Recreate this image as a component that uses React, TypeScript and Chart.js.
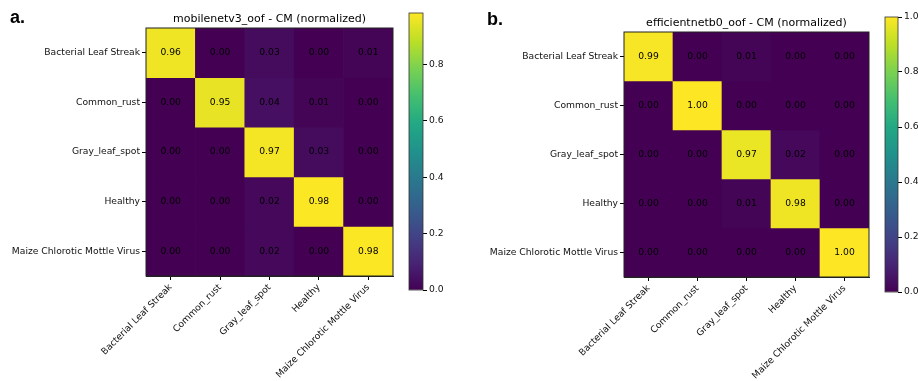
import React, { useEffect, useRef } from "react";
import { Chart, registerables } from "chart.js";
Chart.register(...registerables);

// ---------------- data ----------------
const classes = [
  "Bacterial Leaf Streak",
  "Common_rust",
  "Gray_leaf_spot",
  "Healthy",
  "Maize Chlorotic Mottle Virus",
];

const cmA = [
  [0.96, 0.0, 0.03, 0.0, 0.01],
  [0.0, 0.95, 0.04, 0.01, 0.0],
  [0.0, 0.0, 0.97, 0.03, 0.0],
  [0.0, 0.0, 0.02, 0.98, 0.0],
  [0.0, 0.0, 0.02, 0.0, 0.98],
];

const cmB = [
  [0.99, 0.0, 0.01, 0.0, 0.0],
  [0.0, 1.0, 0.0, 0.0, 0.0],
  [0.0, 0.0, 0.97, 0.02, 0.0],
  [0.0, 0.0, 0.01, 0.98, 0.0],
  [0.0, 0.0, 0.0, 0.0, 1.0],
];

const titleA = "mobilenetv3_oof - CM (normalized)";
const titleB = "efficientnetb0_oof - CM (normalized)";
const vmaxA = 0.982;
const vmaxB = 1.0;
const cbarTicksA = [0, 0.2, 0.4, 0.6, 0.8];
const cbarTicksB = [0, 0.2, 0.4, 0.6, 0.8, 1.0];

// ---------------- style ----------------
const VIRIDIS = [
  "#440154", "#482475", "#414487", "#355f8d", "#2a788e", "#21918c",
  "#22a884", "#44bf70", "#7ad151", "#bddf26", "#fde725",
];
const FAMILY = '"DejaVu Sans", sans-serif';
const tickFont = { family: FAMILY, size: 9.2 };

function hexToRgb(h: string) {
  const n = parseInt(h.slice(1), 16);
  return [(n >> 16) & 255, (n >> 8) & 255, n & 255];
}
function viridis(t: number) {
  const tt = Math.max(0, Math.min(1, t));
  const pos = tt * (VIRIDIS.length - 1);
  const i = Math.min(VIRIDIS.length - 2, Math.floor(pos));
  const f = pos - i;
  const a = hexToRgb(VIRIDIS[i]);
  const b = hexToRgb(VIRIDIS[i + 1]);
  const c = a.map((v, k) => Math.round(v + (b[k] - v) * f));
  return `rgb(${c[0]},${c[1]},${c[2]})`;
}

const H = 381;

type HeatProps = {
  cm: number[][];
  vmax: number;
  title: string;
  label: string;
  labelX: number;
  labelY: number;
  left: number;
  width: number;
  areaLeft: number;
  areaRight: number;
  areaTop: number;
  areaBottom: number;
};

function Heatmap(p: HeatProps) {
  const ref = useRef<HTMLCanvasElement | null>(null);
  useEffect(() => {
    if (!ref.current) return;
    const plugin = {
      id: "annot",
      afterDraw(chart: any) {
        const { ctx, chartArea: a } = chart;
        const x = chart.scales.x;
        const y = chart.scales.y;
        ctx.save();
        ctx.font = `9.2px ${FAMILY}`;
        ctx.fillStyle = "#000";
        ctx.textAlign = "center";
        ctx.textBaseline = "middle";
        p.cm.forEach((row, i) =>
          row.forEach((v, j) => {
            ctx.fillText(v.toFixed(2), x.getPixelForValue(j), y.getPixelForValue(i));
          })
        );
        ctx.strokeStyle = "#222";
        ctx.lineWidth = 1;
        ctx.strokeRect(a.left, a.top, a.right - a.left, a.bottom - a.top);
        ctx.font = `11px ${FAMILY}`;
        ctx.textBaseline = "alphabetic";
        ctx.fillText(p.title, (a.left + a.right) / 2, a.top - 6);
        ctx.font = `bold 18px "Liberation Sans", Arial, sans-serif`;
        ctx.textAlign = "left";
        ctx.fillText(p.label, p.labelX, p.labelY);
        ctx.restore();
      },
    };
    const chart = new Chart(ref.current, {
      type: "bar",
      data: {
        labels: classes,
        datasets: p.cm.map((row, i) => ({
          data: row.map(() => [i - 0.5, i + 0.5]),
          backgroundColor: row.map((v) => viridis(v / p.vmax)),
          borderWidth: 0,
          barPercentage: 1,
          categoryPercentage: 1,
          grouped: false,
        })) as any,
      },
      options: {
        animation: false,
        responsive: false,
        events: [],
        layout: {
          padding: { left: 0, top: p.areaTop, right: p.width - p.areaRight, bottom: 0 },
        },
        plugins: { legend: { display: false }, tooltip: { enabled: false } },
        scales: {
          x: {
            type: "category",
            offset: true,
            grid: {
              display: true,
              drawOnChartArea: false,
              drawTicks: true,
              tickLength: 4,
              color: "#000",
              offset: false,
            },
            border: { display: true, color: "#222", width: 1 },
            ticks: {
              autoSkip: false,
              minRotation: 45,
              maxRotation: 45,
              font: tickFont,
              color: "#111",
              padding: 2,
            },
            afterFit: (s: any) => {
              s.height = H - p.areaBottom;
            },
          },
          y: {
            type: "linear",
            min: -0.5,
            max: 4.5,
            reverse: true,
            afterBuildTicks: (s: any) => {
              s.ticks = classes.map((_, i) => ({ value: i }));
            },
            grid: {
              display: true,
              drawOnChartArea: false,
              drawTicks: true,
              tickLength: 4,
              color: "#000",
            },
            border: { display: true, color: "#222", width: 1 },
            ticks: {
              autoSkip: false,
              font: tickFont,
              color: "#111",
              padding: 2,
              callback: (v: any) => classes[v as number],
            },
            afterFit: (s: any) => {
              s.width = p.areaLeft;
            },
          },
        },
      } as any,
      plugins: [plugin],
    });
    return () => chart.destroy();
  }, []);
  return (
    <canvas
      ref={ref}
      width={p.width}
      height={H}
      style={{ position: "absolute", left: p.left, top: 0, width: p.width, height: H }}
    />
  );
}

type CbarProps = {
  vmax: number;
  ticks: number[];
  left: number;
  width: number;
  areaLeft: number;
  areaRight: number;
  areaTop: number;
  areaBottom: number;
};

function Colorbar(p: CbarProps) {
  const ref = useRef<HTMLCanvasElement | null>(null);
  useEffect(() => {
    if (!ref.current) return;
    const frame = {
      id: "frame",
      afterDraw(chart: any) {
        const { ctx, chartArea: a } = chart;
        ctx.save();
        ctx.strokeStyle = "#333";
        ctx.lineWidth = 0.8;
        ctx.strokeRect(a.left, a.top, a.right - a.left, a.bottom - a.top);
        ctx.restore();
      },
    };
    const chart = new Chart(ref.current, {
      type: "bar",
      data: {
        labels: ["cbar"],
        datasets: [
          {
            data: [[0, p.vmax]],
            barPercentage: 1,
            categoryPercentage: 1,
            borderWidth: 0,
            backgroundColor: (c: any) => {
              const ch = c.chart;
              const y = ch.scales && ch.scales.y;
              if (!ch.chartArea || !y) return VIRIDIS[0];
              const g = ch.ctx.createLinearGradient(
                0,
                y.getPixelForValue(0),
                0,
                y.getPixelForValue(p.vmax)
              );
              VIRIDIS.forEach((col, i) => g.addColorStop(i / (VIRIDIS.length - 1), col));
              return g;
            },
          },
        ] as any,
      },
      options: {
        animation: false,
        responsive: false,
        events: [],
        layout: {
          padding: { left: p.areaLeft, top: p.areaTop, right: 0, bottom: H - p.areaBottom },
        },
        plugins: { legend: { display: false }, tooltip: { enabled: false } },
        scales: {
          x: { display: false },
          y: {
            position: "right",
            min: 0,
            max: p.vmax,
            afterBuildTicks: (s: any) => {
              s.ticks = p.ticks.map((v) => ({ value: v }));
            },
            grid: {
              display: true,
              drawOnChartArea: false,
              drawTicks: true,
              tickLength: 4,
              color: "#000",
            },
            border: { display: false },
            ticks: {
              font: tickFont,
              color: "#111",
              padding: 2,
              callback: (v: any) => Number(v).toFixed(1),
            },
            afterFit: (s: any) => {
              s.width = p.width - p.areaRight;
            },
          },
        },
      } as any,
      plugins: [frame],
    });
    return () => chart.destroy();
  }, []);
  return (
    <canvas
      ref={ref}
      width={p.width}
      height={H}
      style={{ position: "absolute", left: p.left, top: 0, width: p.width, height: H }}
    />
  );
}

export default function App() {
  return (
    <div
      style={{
        position: "absolute",
        left: 0,
        top: 0,
        width: 918,
        height: H,
        background: "#fff",
        overflow: "hidden",
      }}
    >
      <Heatmap
        cm={cmA}
        vmax={vmaxA}
        title={titleA}
        label="a."
        labelX={10}
        labelY={23}
        left={0}
        width={400}
        areaLeft={146}
        areaRight={393}
        areaTop={28}
        areaBottom={276}
      />
      <Colorbar
        vmax={vmaxA}
        ticks={cbarTicksA}
        left={400}
        width={60}
        areaLeft={9}
        areaRight={23}
        areaTop={13}
        areaBottom={290}
      />
      <Heatmap
        cm={cmB}
        vmax={vmaxB}
        title={titleB}
        label="b."
        labelX={27}
        labelY={25}
        left={460}
        width={414}
        areaLeft={164}
        areaRight={409}
        areaTop={32}
        areaBottom={277}
      />
      <Colorbar
        vmax={vmaxB}
        ticks={cbarTicksB}
        left={874}
        width={44}
        areaLeft={11}
        areaRight={24}
        areaTop={17}
        areaBottom={292}
      />
    </div>
  );
}
